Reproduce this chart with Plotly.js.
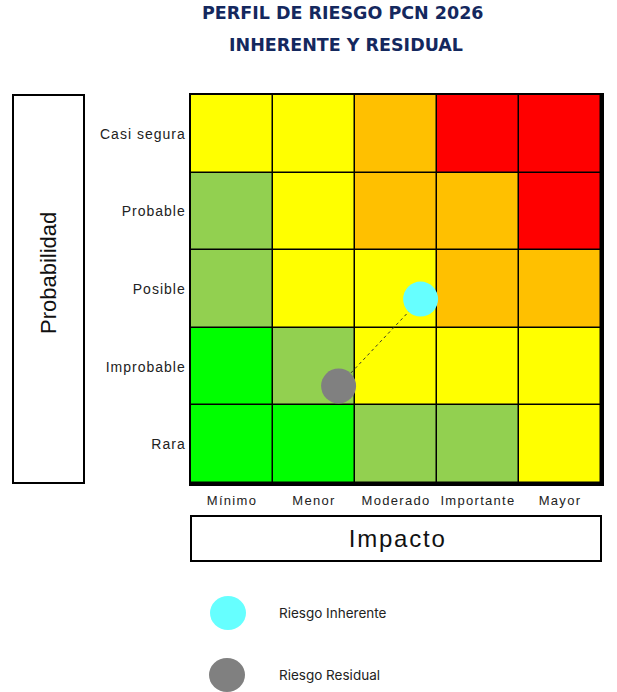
<!DOCTYPE html>
<html>
<head>
<meta charset="utf-8">
<script src="https://cdn.plot.ly/plotly-3.0.1.min.js"></script>
<style>
  html, body { margin: 0; padding: 0; background: #ffffff; }
  #chart { width: 617px; height: 692px; }
  /* airy tracking for the axis category labels */
  #chart .xtick text { letter-spacing: 1.3px; }
  #chart .ytick text { letter-spacing: 1px; }
</style>
</head>
<body>
<div id="chart"></div>
<script>
// Axis categories
const impactLabels = ['Mínimo', 'Menor', 'Moderado', 'Importante', 'Mayor'];
const probLabels = ['Rara', 'Improbable', 'Posible', 'Probable', 'Casi segura'];

// Risk level per cell (rows from Rara up to Casi segura):
// 0 = bajo, 1 = menor, 2 = medio, 3 = alto, 4 = extremo
const rowRara       = [0, 0, 1, 1, 2];
const rowImprobable = [0, 1, 2, 2, 2];
const rowPosible    = [1, 2, 2, 3, 3];
const rowProbable   = [1, 2, 3, 3, 4];
const rowCasiSegura = [2, 2, 3, 4, 4];
const levelColors = ['#00FF00', '#92D050', '#FFFF00', '#FFC000', '#FF0000'];

// Risk positions (impact index, probability index)
const riskNames = ['Riesgo Inherente', 'Riesgo Residual'];
const riskImpact = [2.3, 1.3];
const riskProb = [1.87, 0.75];
const riskColors = ['#66FFFF', '#808080'];

const zGrid = [rowRara, rowImprobable, rowPosible, rowProbable, rowCasiSegura];
const nLevels = levelColors.length;
const colorscale = [];
levelColors.forEach((c, i) => {
  colorscale.push([i / nLevels, c]);
  colorscale.push([(i + 1) / nLevels, c]);
});

const heat = {
  type: 'heatmap',
  x: impactLabels.map((_, i) => i),
  y: probLabels.map((_, i) => i),
  z: zGrid,
  zmin: -0.5,
  zmax: nLevels - 0.5,
  colorscale: colorscale,
  showscale: false,
  xgap: 1.5,
  ygap: 1.5,
  hoverinfo: 'skip'
};

// Path from residual to inherent risk
const link = {
  type: 'scatter',
  mode: 'lines',
  x: [riskImpact[1], riskImpact[0]],
  y: [riskProb[1], riskProb[0]],
  line: { color: '#3a3a2a', width: 1, dash: 'dot' },
  showlegend: false,
  hoverinfo: 'skip'
};

const points = {
  type: 'scatter',
  mode: 'markers',
  x: riskImpact,
  y: riskProb,
  text: riskNames,
  marker: { size: 35, color: riskColors, line: { width: 0 } },
  showlegend: false,
  hoverinfo: 'text'
};

// Pixel -> paper helpers for the plot frame (191..601 x 95..483)
const L = 191, R = 601, T = 95, B = 483;
const px = v => (v - L) / (R - L);
const py = v => (B - v) / (B - T);

const xTickFont = { family: 'Liberation Sans, Arial, sans-serif', size: 13, color: '#222222' };
const yTickFont = { family: 'Liberation Sans, Arial, sans-serif', size: 14, color: '#222222' };
const titleFont = { family: 'DejaVu Sans, sans-serif', size: 17.5, color: '#14285E', weight: 700 };
const probFont = { family: 'Liberation Sans, Arial, sans-serif', size: 22, color: '#111111' };
const impFont = { family: 'Liberation Sans, Arial, sans-serif', size: 24, color: '#111111' };
const legFont = { family: 'Inter, sans-serif', size: 13.5, color: '#222222' };

const shapes = [
  // Probabilidad frame
  { type: 'rect', xref: 'paper', yref: 'paper', x0: px(13), x1: px(84), y0: py(483), y1: py(95),
    line: { color: '#000', width: 2 }, fillcolor: 'rgba(0,0,0,0)' },
  // Impacto frame
  { type: 'rect', xref: 'paper', yref: 'paper', x0: px(191), x1: px(601), y0: py(561), y1: py(516),
    line: { color: '#000', width: 2 }, fillcolor: 'rgba(0,0,0,0)' },
  // Legend swatches
  { type: 'circle', xref: 'paper', yref: 'paper', xsizemode: 'pixel', ysizemode: 'pixel',
    xanchor: px(228), yanchor: py(613), x0: -18, x1: 18, y0: -17, y1: 17,
    fillcolor: riskColors[0], line: { width: 0 } },
  { type: 'circle', xref: 'paper', yref: 'paper', xsizemode: 'pixel', ysizemode: 'pixel',
    xanchor: px(227), yanchor: py(675), x0: -18, x1: 18, y0: -17, y1: 17,
    fillcolor: riskColors[1], line: { width: 0 } }
];

const annotations = [
  { text: 'PERFIL DE RIESGO PCN 2026', xref: 'paper', yref: 'paper', x: px(343), y: py(13),
    showarrow: false, font: titleFont, xanchor: 'center', yanchor: 'middle' },
  { text: 'INHERENTE Y RESIDUAL', xref: 'paper', yref: 'paper', x: px(346), y: py(45),
    showarrow: false, font: titleFont, xanchor: 'center', yanchor: 'middle' },
  { text: 'Probabilidad', xref: 'paper', yref: 'paper', x: px(48), y: py(273), textangle: -90,
    showarrow: false, font: probFont, xanchor: 'center', yanchor: 'middle' },
  { text: 'Impacto', xref: 'paper', yref: 'paper', x: px(397), y: py(538),
    showarrow: false, font: impFont, xanchor: 'center', yanchor: 'middle' },
  { text: riskNames[0], xref: 'paper', yref: 'paper', x: px(277), y: py(613),
    showarrow: false, font: legFont, xanchor: 'left', yanchor: 'middle' },
  { text: riskNames[1], xref: 'paper', yref: 'paper', x: px(277), y: py(675),
    showarrow: false, font: legFont, xanchor: 'left', yanchor: 'middle' }
];

const layout = {
  width: 617,
  height: 692,
  margin: { l: L, r: 617 - R, t: T, b: 692 - B, pad: 0 },
  paper_bgcolor: '#ffffff',
  plot_bgcolor: '#000000',
  showlegend: false,
  xaxis: {
    range: [-0.5, 4.5],
    tickvals: impactLabels.map((_, i) => i),
    ticktext: impactLabels,
    tickfont: xTickFont,
    ticks: '',
    ticklabelstandoff: 4,
    showgrid: false,
    zeroline: false,
    showline: true,
    mirror: true,
    linecolor: '#000000',
    linewidth: 2.5,
    fixedrange: true
  },
  yaxis: {
    range: [-0.5, 4.5],
    tickvals: probLabels.map((_, i) => i),
    ticktext: probLabels,
    tickfont: yTickFont,
    ticks: '',
    showgrid: false,
    zeroline: false,
    showline: true,
    mirror: true,
    linecolor: '#000000',
    linewidth: 2.5,
    fixedrange: true
  },
  shapes: shapes,
  annotations: annotations
};

Plotly.newPlot('chart', [heat, link, points], layout, { displayModeBar: false, staticPlot: true })
  .then(gd => {
    // wider tracking on the "Impacto" heading
    gd.querySelectorAll('.annotation-text').forEach(t => {
      if (t.textContent === 'Impacto') t.style.letterSpacing = '1.8px';
    });
  });
</script>
</body>
</html>
